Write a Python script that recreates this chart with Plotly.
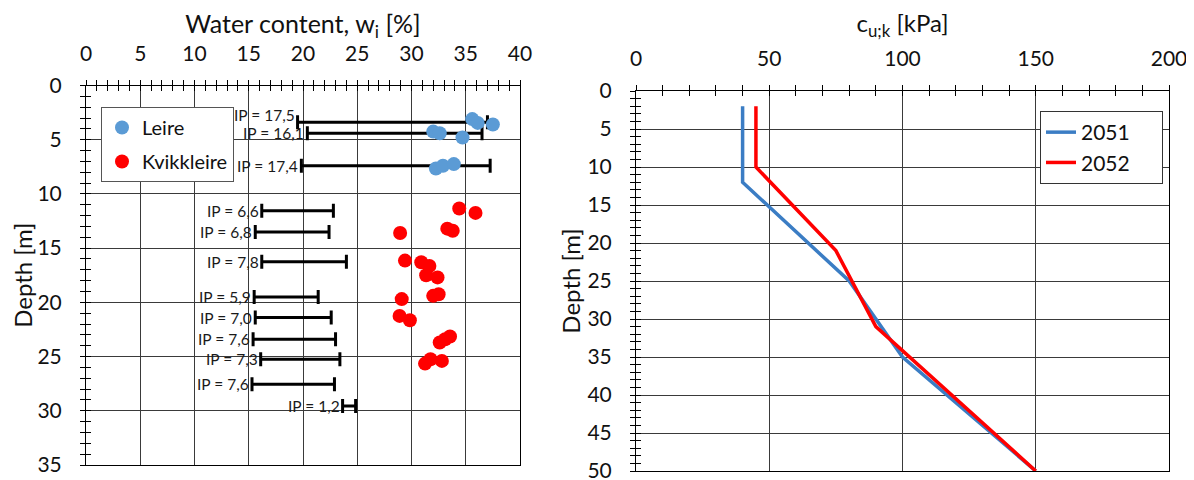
import plotly.graph_objects as go

# ---------------- data: left chart ----------------
leire_w = [35.6, 36.1, 37.5, 32.0, 32.6, 34.7, 32.25, 32.9, 33.9]
leire_d = [3.1, 3.45, 3.6, 4.25, 4.4, 4.8, 7.65, 7.4, 7.25]

kvikk_w = [34.4, 35.9, 28.95, 33.3, 33.8, 29.4, 30.9, 31.65, 31.35, 32.4,
           32.0, 32.5, 29.1, 28.9, 29.85, 33.55, 33.1, 32.6, 31.25, 31.75, 32.8]
kvikk_d = [11.35, 11.75, 13.6, 13.2, 13.4, 16.15, 16.3, 16.65, 17.5, 17.7,
           19.4, 19.25, 19.7, 21.25, 21.65, 23.15, 23.4, 23.7, 25.65, 25.25, 25.4]

ip_depth = [3.4, 4.4, 7.4, 11.55, 13.5, 16.25, 19.5, 21.4, 23.4, 25.25, 27.55, 29.55]
ip_wp = [19.5, 20.4, 19.85, 16.2, 15.6, 16.2, 15.5, 15.6, 15.4, 16.1, 15.3, 23.65]
ip_values = [17.5, 16.1, 17.4, 6.6, 6.8, 7.8, 5.9, 7.0, 7.6, 7.3, 7.6, 1.2]
ip_labels = ["IP = 17,5", "IP = 16,1", "IP = 17,4", "IP = 6,6", "IP = 6,8", "IP = 7,8",
             "IP = 5,9", "IP = 7,0", "IP = 7,6", "IP = 7,3", "IP = 7,6", "IP = 1,2"]
label_yshift = [7, 0, 0, 0, 0, 0, 0, 0, 0, 0, 0, 0]

# ---------------- data: right chart ----------------
cu_2051 = [40, 40, 80, 100, 150]
d_2051 = [2, 12, 25, 35, 50]
cu_2052 = [45, 45, 75, 90, 150]
d_2052 = [2, 10, 21, 31, 50]

FONT = "Lato"
BLUE_PT = "#5B9BD5"
RED = "#FF0000"
BLUE_LN = "#3B7DC4"
GRID = "#3a3a3a"
PAD = "\u00a0" * 5  # widens the legend box like the reference

fig = go.Figure()

# IP bars
fig.add_trace(go.Scatter(
    x=ip_wp, y=ip_depth, mode="markers", xaxis="x", yaxis="y",
    marker=dict(size=1, color="rgba(0,0,0,0)"),
    error_x=dict(type="data", symmetric=False, array=ip_values,
                 arrayminus=[0] * len(ip_values), color="black",
                 thickness=3, width=7),
    showlegend=False, hoverinfo="skip"))

fig.add_trace(go.Scatter(
    x=leire_w, y=leire_d, mode="markers", name="Leire", xaxis="x", yaxis="y",
    marker=dict(size=14, color=BLUE_PT), legend="legend", legendgroup="a"))
fig.add_trace(go.Scatter(
    x=kvikk_w, y=kvikk_d, mode="markers", name="Kvikkleire", xaxis="x", yaxis="y",
    marker=dict(size=14, color=RED), legend="legend", legendgroup="b"))

fig.add_trace(go.Scatter(
    x=cu_2051, y=d_2051, mode="lines", name="2051" + PAD, xaxis="x2", yaxis="y2",
    line=dict(color=BLUE_LN, width=3.5), legend="legend2"))
fig.add_trace(go.Scatter(
    x=cu_2052, y=d_2052, mode="lines", name="2052" + PAD, xaxis="x2", yaxis="y2",
    line=dict(color=RED, width=3.5), legend="legend2"))

for wp, d, lab, ys in zip(ip_wp, ip_depth, ip_labels, label_yshift):
    fig.add_annotation(x=wp, y=d, xref="x", yref="y", text=lab, showarrow=False,
                       xanchor="right", yanchor="middle", xshift=-1, yshift=ys,
                       font=dict(family=FONT, size=15.5, color="#1a1a1a"))

# the page body has an 8px margin, so the figure is 8px smaller and offset
OFF = 8
W, H = 1194 - OFF, 480 - OFF


def fx(px):
    return (px - OFF) / W


def fy(py):
    return 1 - (py - OFF) / H


L_dom_x = [fx(86), fx(520)]
L_dom_y = [fy(465), fy(85.5)]
R_dom_x = [fx(636), fx(1169)]
R_dom_y = [fy(471), fy(91)]


def base_axis(**kw):
    d = dict(showline=True, linecolor="black", linewidth=1, mirror=True,
             ticks="outside", ticklen=5, tickcolor="black", tickwidth=1,
             showgrid=True, gridcolor=GRID, gridwidth=1, zeroline=False,
             automargin=False, ticklabeloverflow="allow",
             tickfont=dict(family=FONT, size=21, color="#111"))
    d.update(kw)
    return d


def overlay_axis(**kw):
    d = dict(showline=False, ticks="inside", ticklen=5, tickcolor="black", tickwidth=1,
             showgrid=False, zeroline=False, showticklabels=False, automargin=False)
    d.update(kw)
    return d


fig.update_layout(
    width=W, height=H, margin=dict(l=0, r=0, t=0, b=0),
    paper_bgcolor="white", plot_bgcolor="white",
    font=dict(family=FONT, color="#111"),
    xaxis=base_axis(domain=L_dom_x, anchor="y", side="top", range=[0, 40],
                    tick0=0, dtick=5, ticklabelstandoff=10,
                    minor=dict(dtick=1, ticks="outside", ticklen=5, tickcolor="black", showgrid=False),
                    title=dict(text="Water content, w<sub>i</sub> [%]",
                               font=dict(family=FONT, size=25), standoff=12)),
    xaxis3=overlay_axis(overlaying="x", anchor="y", side="top", range=[0, 40],
                        tick0=0, dtick=5,
                        minor=dict(dtick=1, ticks="inside", ticklen=5, tickcolor="black")),
    yaxis=base_axis(domain=L_dom_y, anchor="x", range=[35, 0], tick0=0, dtick=5,
                    ticklabelstandoff=14,
                    minor=dict(dtick=1, ticks="outside", ticklen=5, tickcolor="black", showgrid=False),
                    title=dict(text="Depth [m]", font=dict(family=FONT, size=24), standoff=0)),
    yaxis3=overlay_axis(overlaying="y", anchor="x", range=[35, 0], tick0=0, dtick=5,
                        minor=dict(dtick=1, ticks="inside", ticklen=5, tickcolor="black")),
    xaxis2=base_axis(domain=R_dom_x, anchor="y2", side="top", range=[0, 200],
                     tick0=0, dtick=50, ticklabelstandoff=11,
                     minor=dict(dtick=10, ticks="outside", ticklen=5, tickcolor="black", showgrid=False),
                     title=dict(text="c<sub>u;k</sub> [kPa]",
                                font=dict(family=FONT, size=24), standoff=18)),
    xaxis4=overlay_axis(overlaying="x2", anchor="y2", side="top", range=[0, 200],
                        tick0=0, dtick=50,
                        minor=dict(dtick=10, ticks="inside", ticklen=5, tickcolor="black")),
    yaxis2=base_axis(domain=R_dom_y, anchor="x2", range=[50, 0], tick0=0, dtick=5,
                     ticklabelstandoff=14,
                     minor=dict(dtick=1, ticks="outside", ticklen=5, tickcolor="black", showgrid=False),
                     title=dict(text="Depth [m]", font=dict(family=FONT, size=24), standoff=0)),
    yaxis4=overlay_axis(overlaying="y2", anchor="x2", range=[50, 0], tick0=0, dtick=5,
                        minor=dict(dtick=1, ticks="inside", ticklen=5, tickcolor="black")),
    legend=dict(x=fx(101), y=fy(107), xanchor="left", yanchor="top",
                bgcolor="white", bordercolor="#555", borderwidth=1,
                font=dict(family=FONT, size=20), tracegroupgap=5,
                traceorder="grouped", itemwidth=30),
    legend2=dict(x=fx(1040), y=fy(111), xanchor="left", yanchor="top",
                 bgcolor="white", bordercolor="#333", borderwidth=1,
                 font=dict(family=FONT, size=21), tracegroupgap=10, itemwidth=30),
)

# empty traces so the overlay (tick-crossing) axes are drawn
fig.add_trace(go.Scatter(x=[None], y=[None], xaxis="x3", yaxis="y3", showlegend=False))
fig.add_trace(go.Scatter(x=[None], y=[None], xaxis="x4", yaxis="y4", showlegend=False))

fig.write_html("out.html")
